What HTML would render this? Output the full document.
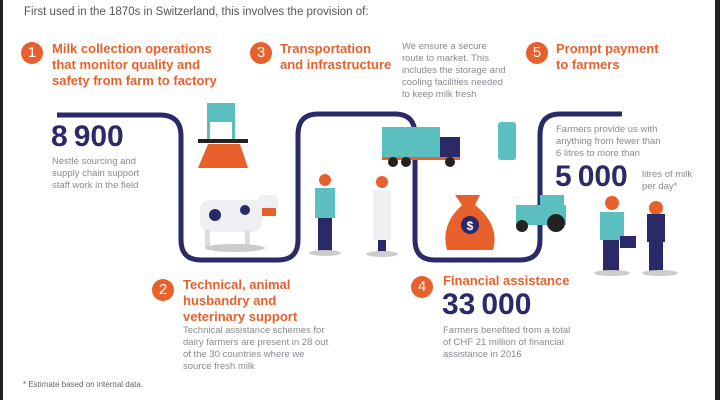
<!DOCTYPE html>
<html><head><meta charset="utf-8"><style>
body{margin:0;width:720px;height:400px;overflow:hidden;background:#fff;font-family:"Liberation Sans",sans-serif;position:relative}
.t{position:absolute;white-space:nowrap}
.h{color:#e8602c;font-weight:bold;font-size:13px;line-height:16px}
.g{color:#8a8a92;font-size:9.5px;line-height:12px}
.n{color:#2a2a68;font-weight:bold;font-size:30px;letter-spacing:0}
.c{position:absolute;width:22px;height:22px;border-radius:50%;background:#e8602c;color:#fff;font-size:15px;text-align:center;line-height:22px}
</style></head><body>
<div style="position:absolute;left:0;top:0;width:3px;height:400px;background:#222"></div>
<div style="position:absolute;left:715px;top:0;width:5px;height:400px;background:#222"></div>
<div class="t" style="left:24px;top:6px;font-size:11.5px;color:#555">First used in the 1870s in Switzerland, this involves the provision of:</div>
<svg width="720" height="400" style="position:absolute;left:0;top:0">
<path d="M57 115 H160 Q181 115 181 136 V240 Q181 260 201 260 H278 Q298 260 298 240 V135 Q298 114 318 114 H395 Q415 114 415 135 V240 Q415 260 435 260 H520 Q540 260 540 240 V135 Q540 114 560 114 H622" fill="none" stroke="#2a2a68" stroke-width="5"/>
<rect x="207" y="103" width="28" height="36" fill="#5bbfc0"/><rect x="210" y="122" width="22" height="17" fill="#fff"/>
<rect x="198" y="139" width="50" height="4" fill="#222"/>
<path d="M208 144 H240 L248 168 H198 Z" fill="#e8602c"/>
<rect x="200" y="200" width="62" height="32" rx="10" fill="#eef0f3"/>
<circle cx="215" cy="215" r="6" fill="#2a2a68"/><circle cx="245" cy="210" r="5" fill="#2a2a68"/>
<rect x="258" y="195" width="20" height="20" rx="5" fill="#eef0f3"/><rect x="262" y="208" width="14" height="8" fill="#e8602c"/>
<rect x="205" y="230" width="5" height="18" fill="#ddd"/><rect x="245" y="230" width="5" height="18" fill="#ddd"/>
<ellipse cx="235" cy="248" rx="30" ry="4" fill="#ccc"/>
<circle cx="325" cy="180" r="6" fill="#e8602c"/><rect x="315" y="188" width="20" height="30" fill="#5bbfc0"/><rect x="318" y="218" width="14" height="35" fill="#2a2a68"/>
<ellipse cx="325" cy="253" rx="16" ry="3" fill="#ccc"/>
<circle cx="382" cy="182" r="6" fill="#e8602c"/><rect x="373" y="190" width="18" height="50" fill="#eef0f3"/><rect x="378" y="240" width="8" height="12" fill="#2a2a68"/>
<ellipse cx="382" cy="254" rx="16" ry="3" fill="#ccc"/>
<rect x="382" y="127" width="58" height="30" fill="#5bbfc0"/><rect x="440" y="137" width="20" height="20" fill="#2a2a68"/>
<rect x="382" y="157" width="78" height="3" fill="#e8602c"/>
<circle cx="393" cy="162" r="5" fill="#222"/><circle cx="406" cy="162" r="5" fill="#222"/><circle cx="450" cy="162" r="5" fill="#222"/>
<path d="M455 195 L480 195 L475 205 Q500 225 493 250 H447 Q440 225 462 205 Z" fill="#e8602c"/>
<circle cx="470" cy="225" r="9" fill="#2a2a68"/><text x="470" y="230" font-size="12" fill="#fff" text-anchor="middle" font-weight="bold" font-family="Liberation Sans">$</text>
<rect x="498" y="122" width="18" height="38" rx="3" fill="#5bbfc0"/>
<rect x="516" y="205" width="50" height="20" fill="#5bbfc0"/><rect x="540" y="195" width="24" height="12" fill="#5bbfc0"/>
<circle cx="522" cy="226" r="6" fill="#222"/><circle cx="556" cy="223" r="9" fill="#222"/>
<circle cx="612" cy="203" r="7" fill="#e8602c"/><rect x="600" y="212" width="24" height="28" fill="#5bbfc0"/><rect x="603" y="240" width="16" height="32" fill="#2a2a68"/>
<rect x="620" y="236" width="16" height="12" fill="#2a2a68"/>
<circle cx="656" cy="208" r="7" fill="#e8602c"/><rect x="647" y="214" width="18" height="28" fill="#2a2a68"/><rect x="649" y="242" width="14" height="30" fill="#2a2a68"/>
<ellipse cx="612" cy="273" rx="18" ry="3" fill="#ccc"/><ellipse cx="660" cy="273" rx="18" ry="3" fill="#ccc"/>
</svg>
<div class="c" style="left:21px;top:42px">1</div>
<div class="t h" style="left:52px;top:41px">Milk collection operations<br>that monitor quality and<br>safety from farm to factory</div>
<div class="t n" style="left:51px;top:120px">8&#8201;900</div>
<div class="t g" style="left:52px;top:156px">Nestlé sourcing and<br>supply chain support<br>staff work in the field</div>
<div class="c" style="left:250px;top:42px">3</div>
<div class="t h" style="left:280px;top:41px">Transportation<br>and infrastructure</div>
<div class="t g" style="left:402px;top:41px">We ensure a secure<br>route to market. This<br>includes the storage and<br>cooling facilities needed<br>to keep milk fresh</div>
<div class="c" style="left:526px;top:42px">5</div>
<div class="t h" style="left:556px;top:41px">Prompt payment<br>to farmers</div>
<div class="t g" style="left:556px;top:124px">Farmers provide us with<br>anything from fewer than<br>6 litres to more than</div>
<div class="t n" style="left:555px;top:160px">5&#8201;000</div>
<div class="t g" style="left:642px;top:169px">litres of milk<br>per day*</div>
<div class="c" style="left:152px;top:279px">2</div>
<div class="t h" style="left:183px;top:277px">Technical, animal<br>husbandry and<br>veterinary support</div>
<div class="t g" style="left:183px;top:325px">Technical assistance schemes for<br>dairy farmers are present in 28 out<br>of the 30 countries where we<br>source fresh milk</div>
<div class="c" style="left:411px;top:276px">4</div>
<div class="t h" style="left:443px;top:273px">Financial assistance</div>
<div class="t n" style="left:442px;top:288px">33&#8201;000</div>
<div class="t g" style="left:443px;top:325px">Farmers benefited from a total<br>of CHF 21 million of financial<br>assistance in 2016</div>
<div class="t" style="left:23px;top:380px;font-size:8px;color:#666">* Estimate based on internal data.</div>
</body></html>
